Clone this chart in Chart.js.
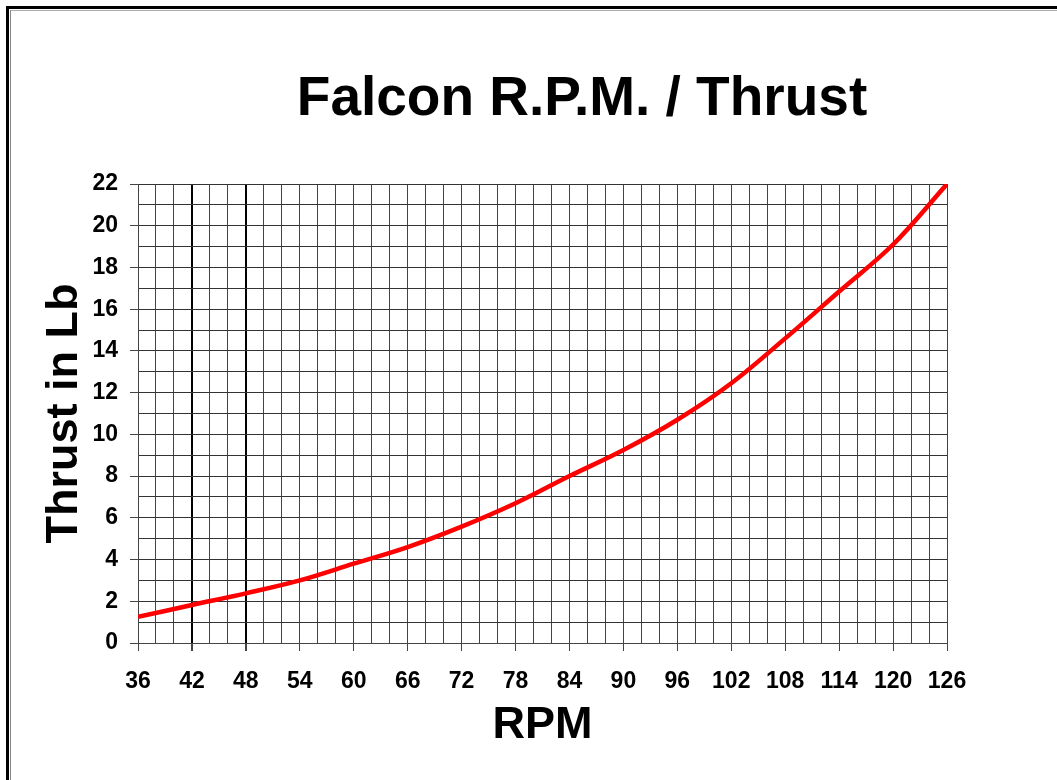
<!DOCTYPE html>
<html>
<head>
<meta charset="utf-8">
<script src="https://cdn.jsdelivr.net/npm/chart.js@4/dist/chart.umd.min.js"></script>
<style>
  body { margin: 0; background: #fff; }
  #wrap { position: relative; width: 1057px; height: 780px; }
  .frame { position: absolute; left: 6px; top: 6px; right: 0; bottom: 0; border-top: 3px solid #000; border-left: 3px solid #000; }
  .frame-in { position: absolute; left: 10px; top: 10px; right: 0; bottom: 0; border-top: 1px solid #aaa; border-left: 1px solid #888; }
  canvas { position: absolute; left: 0; top: 0; }
</style>
</head>
<body>
<div id="wrap">
  <canvas id="thrustChart" width="1057" height="780"></canvas>
  <div class="frame"></div>
  <div class="frame-in"></div>
</div>
<script>
const chartTitle = "Falcon R.P.M. / Thrust";
const rpm = [36, 42, 48, 54, 60, 66, 72, 78, 84, 90, 96, 102, 108, 114, 120, 126];
const thrust = [1.25, 1.82, 2.38, 3.0, 3.8, 4.6, 5.58, 6.7, 8.0, 9.25, 10.7, 12.45, 14.6, 16.85, 19.1, 22];
const xTickLabels = [36, 42, 48, 54, 60, 66, 72, 78, 84, 90, 96, 102, 108, 114, 120, 126];
const yTickLabels = [0, 2, 4, 6, 8, 10, 12, 14, 16, 18, 20, 22];
const heavyLines = [42, 48];

const tickFont = { family: "'Liberation Sans', Arial, sans-serif", size: 23, weight: "bold" };
const titleFont = { family: "'Liberation Sans', Arial, sans-serif", size: 45, weight: "bold" };

// main title sits a bit right of centre, so draw it here
const titlePlugin = {
  id: "titleAt",
  afterDraw(chart) {
    const c = chart.ctx;
    c.save();
    c.font = "bold 55px 'Liberation Sans', Arial, sans-serif";
    c.fillStyle = "#000";
    c.textAlign = "center";
    c.textBaseline = "middle";
    c.fillText(chartTitle, 582, 100);
    c.restore();
  },
};

const ctx = document.getElementById("thrustChart");

new Chart(ctx, {
  type: "line",
  data: {
    datasets: [
      {
        label: "Thrust",
        data: rpm.map((r, i) => ({ x: r, y: thrust[i] })),
        borderColor: "#ff0000",
        borderWidth: 4.5,
        pointRadius: 0,
        tension: 0.35,
        fill: false,
      },
    ],
  },
  options: {
    responsive: false,
    animation: false,
    layout: { padding: { top: 184, right: 110, left: 0, bottom: 0 } },
    plugins: {
      legend: { display: false },
      tooltip: { enabled: false },
      title: { display: false },
    },
    scales: {
      x: {
        type: "linear",
        min: 36,
        max: 126,
        afterFit(scale) {
          scale.height = 137;
          scale.paddingLeft = 0;
          scale.paddingRight = 0;
        },
        ticks: {
          stepSize: 2,
          autoSkip: false,
          maxRotation: 0,
          color: "#000",
          font: tickFont,
          padding: 17,
          callback: (v) => (xTickLabels.includes(v) ? v : ""),
        },
        grid: {
          color: (c) => (heavyLines.includes(c.tick && c.tick.value) ? "#000" : "#444"),
          lineWidth: (c) => (heavyLines.includes(c.tick && c.tick.value) ? 2 : 1),
          tickLength: 8,
          tickColor: (c) => (xTickLabels.includes(c.tick && c.tick.value) ? "#444" : "rgba(0,0,0,0)"),
        },
        border: { color: "#444" },
        title: {
          display: true,
          text: "RPM",
          color: "#000",
          font: titleFont,
          padding: { top: 0, bottom: 27 },
        },
      },
      y: {
        min: 0,
        max: 22,
        afterFit(scale) {
          scale.width = 138;
          scale.paddingTop = 0;
          scale.paddingBottom = 0;
        },
        ticks: {
          stepSize: 1,
          autoSkip: false,
          color: "#000",
          font: tickFont,
          padding: 12,
          callback: (v) => (yTickLabels.includes(v) ? v : ""),
        },
        grid: {
          color: "#333",
          lineWidth: 1,
          tickLength: 8,
          tickColor: (c) => (yTickLabels.includes(c.tick && c.tick.value) ? "#444" : "rgba(0,0,0,0)"),
        },
        border: { color: "#444" },
        title: {
          display: true,
          text: "Thrust in Lb",
          color: "#000",
          font: titleFont,
          padding: { top: 38, bottom: 0 },
        },
      },
    },
  },
  plugins: [titlePlugin],
});
</script>
</body>
</html>
